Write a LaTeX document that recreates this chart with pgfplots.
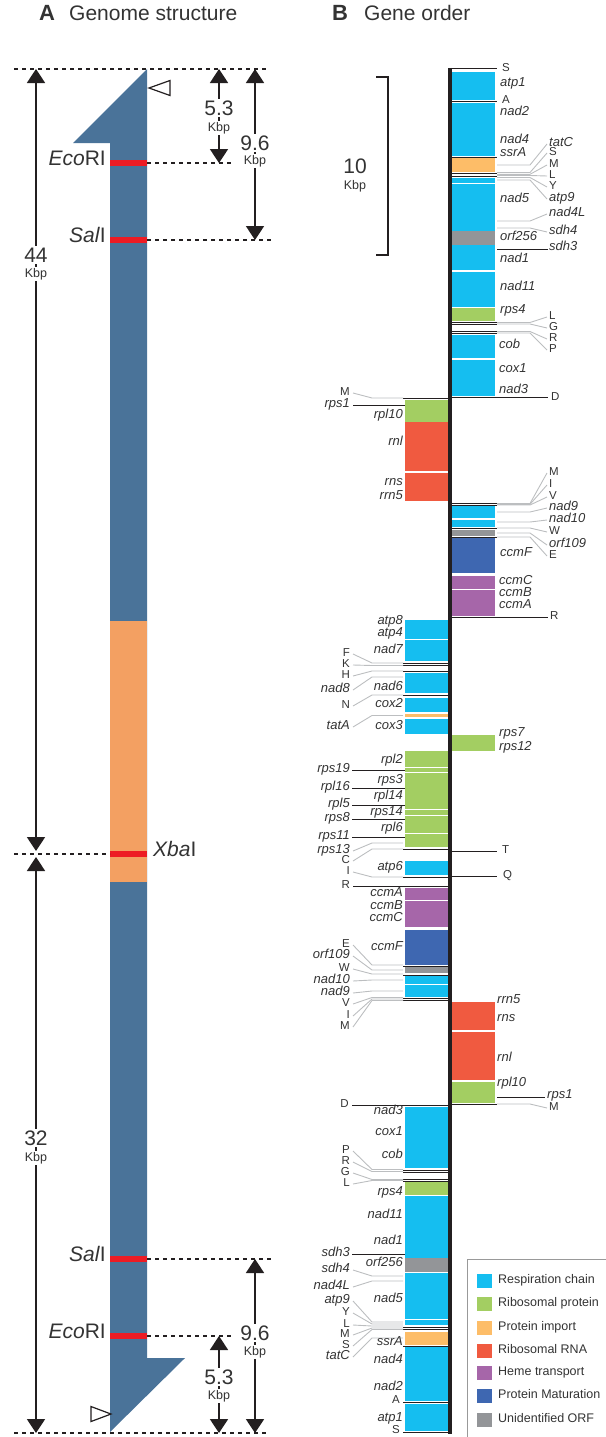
\documentclass[border=0pt]{standalone}
\usepackage{fontspec}
\setmainfont{Liberation Sans}
\usepackage{pgfplots}
\pgfplotsset{compat=1.18}
\usetikzlibrary{arrows.meta}
\definecolor{resp}{HTML}{15BEF0}
\definecolor{ribo}{HTML}{A3CE62}
\definecolor{imp}{HTML}{FDBD68}
\definecolor{rrna}{HTML}{F05A40}
\definecolor{heme}{HTML}{A666A9}
\definecolor{mat}{HTML}{3E67B1}
\definecolor{orf}{HTML}{939598}
\definecolor{txt}{HTML}{231F20}
\definecolor{lab}{HTML}{333333}
\definecolor{lead}{HTML}{BCBEC0}
\definecolor{barA}{HTML}{4A7399}
\definecolor{orgA}{HTML}{F3A062}
\definecolor{redA}{HTML}{ED1C24}
\newcommand\fgi{\fontsize{13}{14}\selectfont\itshape}
\newcommand\fgt{\fontsize{11.5}{12}\selectfont}
\newcommand\fbig{\fontsize{21}{23}\selectfont}
\newcommand\fsm{\fontsize{12.5}{13}\selectfont}
% blocks
\newcommand\gR[3]{\addplot[draw=none,fill=#3] coordinates {(452,#1) (495,#1) (495,#2) (452,#2)} -- cycle;}
\newcommand\gL[3]{\addplot[draw=none,fill=#3] coordinates {(405,#1) (448,#1) (448,#2) (405,#2)} -- cycle;}
\newcommand\tR[1]{\addplot[txt,line width=1pt] coordinates {(452,#1) (497,#1)};}
\newcommand\tL[1]{\addplot[txt,line width=1pt] coordinates {(403,#1) (448,#1)};}
\newcommand\ldR[2]{\addplot[lead,line width=0.9pt] coordinates {(497,#1) (530,#1) (547,#2)};}
\newcommand\ldL[2]{\addplot[lead,line width=0.9pt] coordinates {(403,#1) (372,#1) (353,#2)};}
\newcommand\bl[3]{\addplot[txt,line width=1pt] coordinates {(#1,#3) (#2,#3)};}
\newcommand\lbW[4]{\node[anchor=mid west,inner sep=0pt,text=lab,font=#1] at (axis cs:#2,#3) {#4};}
\newcommand\lbE[4]{\node[anchor=mid east,inner sep=0pt,text=lab,font=#1] at (axis cs:#2,#3) {#4};}
\newcommand\legi[5]{\addplot[draw=none,fill=#4] coordinates {(477,#1) (492,#1) (492,#2) (477,#2)} -- cycle;
  \node[anchor=mid west,inner sep=0pt,text=lab,font=\fsm] at (axis cs:498,#3) {#5};}
\begin{document}
\begin{tikzpicture}
\begin{axis}[x=1pt,y=1pt,y dir=reverse,xmin=0,xmax=605,ymin=0,ymax=1437,
  hide axis,clip=false,at={(0,0)},anchor=south west]
% ================= Panel A =================
\addplot[draw=none,fill=barA] coordinates {(147,69) (73,143) (110,143) (110,1432) (185,1358) (147,1358)} -- cycle;
\addplot[draw=none,fill=orgA] coordinates {(110,621) (147,621) (147,882) (110,882)} -- cycle;
\addplot[draw=none,fill=redA] coordinates {(110,160) (147,160) (147,166) (110,166)} -- cycle;
\addplot[draw=none,fill=redA] coordinates {(110,237) (147,237) (147,243) (110,243)} -- cycle;
\addplot[draw=none,fill=redA] coordinates {(110,851) (147,851) (147,857) (110,857)} -- cycle;
\addplot[draw=none,fill=redA] coordinates {(110,1256) (147,1256) (147,1262) (110,1262)} -- cycle;
\addplot[draw=none,fill=redA] coordinates {(110,1333) (147,1333) (147,1339) (110,1339)} -- cycle;
% dashed lines
\addplot[txt,line width=1.3pt,dash pattern=on 4pt off 4pt] coordinates {(14,69) (268,69)};
\addplot[txt,line width=1.3pt,dash pattern=on 4pt off 4pt] coordinates {(14,1433) (268,1433)};
\addplot[txt,line width=1.3pt,dash pattern=on 4pt off 4pt] coordinates {(147,163) (233,163)};
\addplot[txt,line width=1.3pt,dash pattern=on 4pt off 4pt] coordinates {(147,240) (272,240)};
\addplot[txt,line width=1.3pt,dash pattern=on 4pt off 4pt] coordinates {(14,854) (110,854)};
\addplot[txt,line width=1.3pt,dash pattern=on 4pt off 4pt] coordinates {(147,1259) (272,1259)};
\addplot[txt,line width=1.3pt,dash pattern=on 4pt off 4pt] coordinates {(147,1336) (232,1336)};
% dimension arrows
\addplot[txt,line width=1.8pt,{Triangle[width=18pt,length=14pt]}-{Triangle[width=18pt,length=14pt]}] coordinates {(36,69) (36,851)};
\addplot[txt,line width=1.8pt,{Triangle[width=18pt,length=14pt]}-{Triangle[width=18pt,length=14pt]}] coordinates {(36,857) (36,1433)};
\addplot[txt,line width=1.8pt,{Triangle[width=18pt,length=14pt]}-{Triangle[width=18pt,length=14pt]}] coordinates {(219,69) (219,163)};
\addplot[txt,line width=1.8pt,{Triangle[width=18pt,length=14pt]}-{Triangle[width=18pt,length=14pt]}] coordinates {(255,69) (255,240)};
\addplot[txt,line width=1.8pt,{Triangle[width=18pt,length=14pt]}-{Triangle[width=18pt,length=14pt]}] coordinates {(255,1259) (255,1433)};
\addplot[txt,line width=1.8pt,{Triangle[width=18pt,length=14pt]}-{Triangle[width=18pt,length=14pt]}] coordinates {(219,1336) (219,1433)};
% open triangles
\addplot[txt,line width=1.2pt] coordinates {(149,88) (170,80.5) (170,95.5)} -- cycle;
\addplot[txt,line width=1.2pt] coordinates {(111,1414) (91,1406.5) (91,1421.5)} -- cycle;
% labels A
\node[anchor=mid west,inner sep=0pt,text=lab,font=\fontsize{22}{24}\selectfont\bfseries] at (axis cs:39,18) {A};
\node[anchor=mid west,inner sep=0pt,text=lab,font=\fbig] at (axis cs:69,18) {Genome structure};
\node[anchor=mid west,inner sep=0pt,text=lab,font=\fontsize{22}{24}\selectfont\bfseries] at (axis cs:332,18) {B};
\node[anchor=mid west,inner sep=0pt,text=lab,font=\fbig] at (axis cs:364,18) {Gene order};
\lbE{\fbig}{106}{163}{\textit{Eco}RI}
\lbE{\fbig}{106}{240}{\textit{Sal}I}
\lbW{\fbig}{153}{854}{\textit{Xba}I}
\lbE{\fbig}{106}{1259}{\textit{Sal}I}
\lbE{\fbig}{106}{1336}{\textit{Eco}RI}
\node[fill=white,inner sep=1.5pt,text=lab,font=\fbig] at (axis cs:36,255) {44};
\node[fill=white,inner sep=1.5pt,text=lab,font=\fsm] at (axis cs:36,274) {Kbp};
\node[fill=white,inner sep=1.5pt,text=lab,font=\fbig] at (axis cs:36,1138) {32};
\node[fill=white,inner sep=1.5pt,text=lab,font=\fsm] at (axis cs:36,1158) {Kbp};
\node[fill=white,inner sep=1.5pt,text=lab,font=\fbig] at (axis cs:219,108) {5.3};
\node[fill=white,inner sep=1.5pt,text=lab,font=\fsm] at (axis cs:219,128) {Kbp};
\node[fill=white,inner sep=1.5pt,text=lab,font=\fbig] at (axis cs:255,143) {9.6};
\node[fill=white,inner sep=1.5pt,text=lab,font=\fsm] at (axis cs:255,161) {Kbp};
\node[fill=white,inner sep=1.5pt,text=lab,font=\fbig] at (axis cs:255,1333) {9.6};
\node[fill=white,inner sep=1.5pt,text=lab,font=\fsm] at (axis cs:255,1352) {Kbp};
\node[fill=white,inner sep=1.5pt,text=lab,font=\fbig] at (axis cs:219,1377) {5.3};
\node[fill=white,inner sep=1.5pt,text=lab,font=\fsm] at (axis cs:219,1396) {Kbp};
% ================= Panel B =================
\addplot[txt,line width=1.5pt] coordinates {(376,77) (388,77) (388,255) (376,255)};
\node[inner sep=0pt,text=lab,font=\fbig] at (axis cs:355,166) {10};
\node[inner sep=0pt,text=lab,font=\fsm] at (axis cs:355,186) {Kbp};
% right blocks
\gR{72}{100}{resp}
\gR{103}{156}{resp}
\gR{158}{171.5}{imp}
\gR{177.5}{182.5}{resp}
\gR{184}{231}{resp}
\gR{231}{245}{orf}
\gR{245}{270}{resp}
\gR{271.5}{307}{resp}
\gR{308}{321}{ribo}
\gR{335}{358}{resp}
\gR{359.5}{396}{resp}
\gR{506}{518}{resp}
\gR{519.5}{527}{resp}
\gR{530}{536}{orf}
\gR{538}{573}{mat}
\gR{576}{589}{heme}
\gR{590}{616}{heme}
\gR{735}{751}{ribo}
\gR{1002}{1030}{rrna}
\gR{1032}{1080}{rrna}
\gR{1082}{1103}{ribo}
% right tRNA lines
\tR{69} \tR{101} \tR{157} \tR{173.3} \tR{176} \tR{322} \tR{324.3} \tR{331} \tR{333.3}
\tR{503} \tR{505.3} \tR{528.3} \tR{537} \tR{1104}
\bl{452}{548}{397} \bl{452}{548}{617} \bl{452}{497}{851} \bl{452}{497}{876}
\bl{497}{548}{249} \bl{497}{545}{1097}
% right leaders
\ldR{165}{144} \ldR{172.5}{153} \ldR{174.3}{165} \ldR{175.5}{176} \ldR{177.5}{187} \ldR{180}{199}
\ldR{221}{214} \ldR{228}{232}
\ldR{322.5}{317} \ldR{324}{328} \ldR{331.5}{339} \ldR{333}{350}
\ldR{503.5}{473} \ldR{504.3}{485} \ldR{505}{497} \ldR{512}{508} \ldR{522}{520}
\ldR{528}{532} \ldR{533}{545} \ldR{537}{556} \ldR{1104}{1108}
% right labels inner
\lbW{\fgt}{502}{69}{S}
\lbW{\fgi}{500}{84}{atp1}
\lbW{\fgt}{502}{101}{A}
\lbW{\fgi}{500}{113}{nad2}
\lbW{\fgi}{500}{141}{nad4}
\lbW{\fgi}{500}{154}{ssrA}
\lbW{\fgi}{500}{200}{nad5}
\lbW{\fgi}{500}{238}{orf256}
\lbW{\fgi}{500}{260}{nad1}
\lbW{\fgi}{500}{288}{nad11}
\lbW{\fgi}{500}{311}{rps4}
\lbW{\fgi}{499}{346}{cob}
\lbW{\fgi}{499}{370}{cox1}
\lbW{\fgi}{499}{391}{nad3}
\lbW{\fgi}{500}{554}{ccmF}
\lbW{\fgi}{499}{582}{ccmC}
\lbW{\fgi}{499}{594}{ccmB}
\lbW{\fgi}{499}{606}{ccmA}
\lbW{\fgi}{499}{734}{rps7}
\lbW{\fgi}{499}{748}{rps12}
\lbW{\fgi}{497}{1001}{rrn5}
\lbW{\fgi}{497}{1019}{rns}
\lbW{\fgi}{497}{1059}{rnl}
\lbW{\fgi}{497}{1084}{rpl10}
\lbW{\fgt}{502}{851}{T}
\lbW{\fgt}{503}{876}{Q}
% right labels outer
\lbW{\fgi}{549}{144}{tatC}
\lbW{\fgt}{549}{153}{S}
\lbW{\fgt}{549}{165}{M}
\lbW{\fgt}{549}{176}{L}
\lbW{\fgt}{549}{187}{Y}
\lbW{\fgi}{549}{199}{atp9}
\lbW{\fgi}{549}{214}{nad4L}
\lbW{\fgi}{549}{232}{sdh4}
\lbW{\fgi}{549}{248}{sdh3}
\lbW{\fgt}{549}{317}{L}
\lbW{\fgt}{549}{328}{G}
\lbW{\fgt}{549}{339}{R}
\lbW{\fgt}{549}{350}{P}
\lbW{\fgt}{551}{398}{D}
\lbW{\fgt}{550}{617}{R}
\lbW{\fgt}{549}{473}{M}
\lbW{\fgt}{549}{485}{I}
\lbW{\fgt}{549}{497}{V}
\lbW{\fgi}{549}{508}{nad9}
\lbW{\fgi}{549}{520}{nad10}
\lbW{\fgt}{549}{532}{W}
\lbW{\fgi}{549}{545}{orf109}
\lbW{\fgt}{549}{556}{E}
\lbW{\fgi}{547}{1096}{rps1}
\lbW{\fgt}{549}{1108}{M}
% left blocks
\gL{400}{422}{ribo}
\gL{422}{471}{rrna}
\gL{473}{501}{rrna}
\gL{620}{639}{resp}
\gL{640}{661}{resp}
\gL{673}{693}{resp}
\gL{698}{712}{resp}
\gL{714}{717}{imp}
\gL{719}{734}{resp}
\gL{751}{767}{ribo}
\gL{768}{772}{ribo}
\gL{773}{809}{ribo}
\gL{810}{815}{ribo}
\gL{816}{833}{ribo}
\gL{834}{847}{ribo}
\gL{861}{875}{resp}
\gL{888}{900}{heme}
\gL{901}{927}{heme}
\gL{930}{965}{mat}
\gL{967}{973}{orf}
\gL{976}{984}{resp}
\gL{985}{997}{resp}
\gL{1107}{1168}{resp}
\gL{1182}{1195}{ribo}
\gL{1196}{1258}{resp}
\gL{1258}{1272}{orf}
\gL{1273}{1319}{resp}
\gL{1320}{1325}{resp}
\gL{1332}{1345}{imp}
\gL{1347}{1401}{resp}
\gL{1404}{1431}{resp}
% left tRNA lines
\tL{398} \tL{663} \tL{665.5} \tL{671} \tL{695} \tL{849} \tL{877} \tL{966} \tL{975}
\tL{998.3} \tL{1000.3} \tL{1170} \tL{1172} \tL{1179} \tL{1181} \tL{1327} \tL{1329}
\tL{1346} \tL{1402} \tL{1432}
\bl{353}{405}{405} \bl{352}{405}{770} \bl{352}{405}{788} \bl{352}{405}{805}
\bl{352}{405}{819} \bl{352}{405}{837} \bl{353}{448}{886} \bl{352}{448}{1105}
\bl{352}{405}{1254}
% left leaders
\ldL{398}{393} \ldL{663}{654} \ldL{665.5}{665} \ldL{671}{676} \ldL{677}{690}
\ldL{695}{706} \ldL{715.5}{727} \ldL{843}{851} \ldL{849}{861} \ldL{877}{872}
\ldL{965}{945} \ldL{970}{956} \ldL{974}{969} \ldL{980}{981} \ldL{991}{993}
\ldL{997.5}{1004} \ldL{999}{1016} \ldL{1000.5}{1027}
\ldL{1169.5}{1151} \ldL{1171.5}{1162} \ldL{1179.5}{1173} \ldL{1180.5}{1184}
\ldL{1276}{1270} \ldL{1281}{1287} \ldL{1322}{1301} \ldL{1324}{1313}
\ldL{1326}{1325} \ldL{1328}{1335} \ldL{1329.5}{1346} \ldL{1338}{1357}
% left labels inner
\lbE{\fgi}{403}{416}{rpl10}
\lbE{\fgi}{403}{443}{rnl}
\lbE{\fgi}{403}{483}{rns}
\lbE{\fgi}{403}{497}{rrn5}
\lbE{\fgi}{403}{622}{atp8}
\lbE{\fgi}{403}{634}{atp4}
\lbE{\fgi}{403}{651}{nad7}
\lbE{\fgi}{403}{688}{nad6}
\lbE{\fgi}{403}{705}{cox2}
\lbE{\fgi}{403}{727}{cox3}
\lbE{\fgi}{403}{761}{rpl2}
\lbE{\fgi}{403}{781}{rps3}
\lbE{\fgi}{403}{797}{rpl14}
\lbE{\fgi}{403}{813}{rps14}
\lbE{\fgi}{403}{829}{rpl6}
\lbE{\fgi}{403}{868}{atp6}
\lbE{\fgi}{403}{894}{ccmA}
\lbE{\fgi}{403}{907}{ccmB}
\lbE{\fgi}{403}{919}{ccmC}
\lbE{\fgi}{403}{948}{ccmF}
\lbE{\fgi}{403}{1112}{nad3}
\lbE{\fgi}{403}{1133}{cox1}
\lbE{\fgi}{403}{1156}{cob}
\lbE{\fgi}{403}{1193}{rps4}
\lbE{\fgi}{403}{1216}{nad11}
\lbE{\fgi}{403}{1242}{nad1}
\lbE{\fgi}{403}{1264}{orf256}
\lbE{\fgi}{403}{1300}{nad5}
\lbE{\fgi}{403}{1343}{ssrA}
\lbE{\fgi}{403}{1361}{nad4}
\lbE{\fgi}{403}{1388}{nad2}
\lbE{\fgt}{400}{1401}{A}
\lbE{\fgi}{403}{1419}{atp1}
\lbE{\fgt}{400}{1431}{S}
% left labels outer
\lbE{\fgt}{350}{393}{M}
\lbE{\fgi}{350}{405}{rps1}
\lbE{\fgt}{350}{654}{F}
\lbE{\fgt}{350}{665}{K}
\lbE{\fgt}{350}{676}{H}
\lbE{\fgi}{350}{690}{nad8}
\lbE{\fgt}{350}{706}{N}
\lbE{\fgi}{350}{727}{tatA}
\lbE{\fgi}{350}{770}{rps19}
\lbE{\fgi}{350}{788}{rpl16}
\lbE{\fgi}{350}{805}{rpl5}
\lbE{\fgi}{350}{819}{rps8}
\lbE{\fgi}{350}{837}{rps11}
\lbE{\fgi}{350}{851}{rps13}
\lbE{\fgt}{350}{861}{C}
\lbE{\fgt}{350}{872}{I}
\lbE{\fgt}{350}{886}{R}
\lbE{\fgt}{350}{945}{E}
\lbE{\fgi}{350}{956}{orf109}
\lbE{\fgt}{350}{969}{W}
\lbE{\fgi}{350}{981}{nad10}
\lbE{\fgi}{350}{993}{nad9}
\lbE{\fgt}{350}{1004}{V}
\lbE{\fgt}{350}{1016}{I}
\lbE{\fgt}{350}{1027}{M}
\lbE{\fgt}{349}{1105}{D}
\lbE{\fgt}{350}{1151}{P}
\lbE{\fgt}{350}{1162}{R}
\lbE{\fgt}{350}{1173}{G}
\lbE{\fgt}{350}{1184}{L}
\lbE{\fgi}{350}{1254}{sdh3}
\lbE{\fgi}{350}{1270}{sdh4}
\lbE{\fgi}{350}{1287}{nad4L}
\lbE{\fgi}{350}{1301}{atp9}
\lbE{\fgt}{350}{1313}{Y}
\lbE{\fgt}{350}{1325}{L}
\lbE{\fgt}{350}{1335}{M}
\lbE{\fgt}{350}{1346}{S}
\lbE{\fgi}{350}{1357}{tatC}
% main axis line
\addplot[txt,line width=4pt] coordinates {(450,68) (450,1434)};
% legend
\addplot[gray!80,line width=1pt] coordinates {(606,1259) (467,1259) (467,1438)};
\legi{1274}{1288}{1281}{resp}{Respiration chain}
\legi{1297}{1311}{1304}{ribo}{Ribosomal protein}
\legi{1321}{1335}{1328}{imp}{Protein import}
\legi{1344}{1358}{1351}{rrna}{Ribosomal RNA}
\legi{1366}{1380}{1373}{heme}{Heme transport}
\legi{1389}{1403}{1396}{mat}{Protein Maturation}
\legi{1413}{1427}{1420}{orf}{Unidentified ORF}
\end{axis}
\pgfresetboundingbox
\path[use as bounding box] (0,0) rectangle (605pt,1437pt);
\end{tikzpicture}
\end{document}
